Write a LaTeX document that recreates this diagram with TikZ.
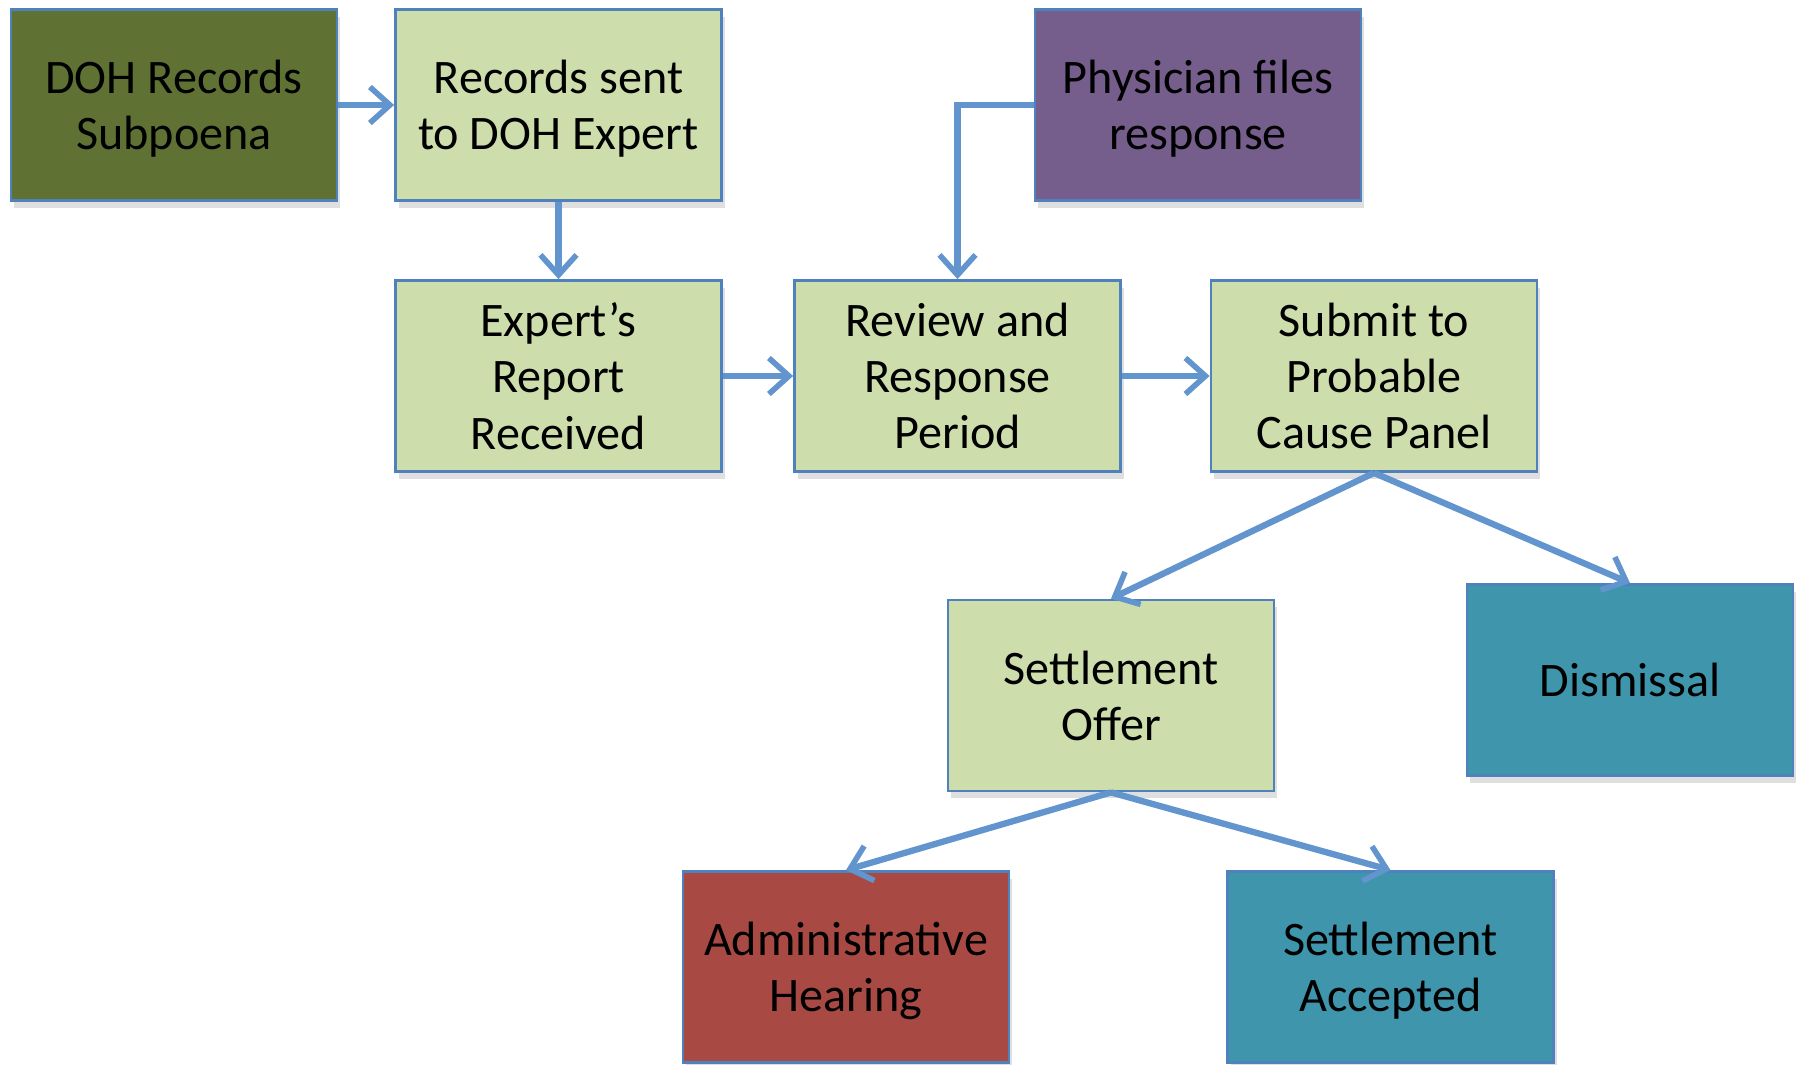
\documentclass[tikz,border=0pt]{standalone}
\usepackage{fontspec}
\setmainfont{Carlito}
\usetikzlibrary{arrows.meta,positioning,shadows}
\definecolor{flowline}{RGB}{79,129,189}
\definecolor{flowarrow}{RGB}{98,149,205}
\definecolor{flowlight}{RGB}{205,221,172}
\definecolor{flowdark}{RGB}{95,114,52}
\definecolor{flowpurple}{RGB}{117,93,140}
\definecolor{flowred}{RGB}{168,74,67}
\definecolor{flowteal}{RGB}{62,149,172}
\tikzset{
  fcard/.style={draw=flowline, line width=0.8pt, align=center,
    minimum width=32.6mm, minimum height=19.1mm, inner sep=0pt,
    font=\fontsize{13.7}{16}\selectfont, text depth=-1mm,
    drop shadow={shadow xshift=0.3mm, shadow yshift=-0.7mm, opacity=0.25}},
  flight/.style={fcard, fill=flowlight},
  fdark/.style={fcard, fill=flowdark},
  fpurple/.style={fcard, fill=flowpurple},
  fred/.style={fcard, fill=flowred},
  fteal/.style={fcard, fill=flowteal},
  arr/.style={-{Straight Barb[length=2mm,width=3.6mm,line width=1.6pt]},
    line width=1.8pt, flowarrow}
}
\begin{document}
\begin{tikzpicture}[x=0.1mm,y=-0.1mm]
  \clip (0,0) rectangle (1798,1064);
  % top row
  \node[fdark] (subpoena) at (174,105) {DOH Records\\Subpoena};
  \node[flight] (sent) at (558.5,105) {Records sent\\to DOH Expert};
  \node[fpurple] (physician) at (1198,105) {Physician files\\response};
  % middle row
  \node[flight] (report) at (558.5,376) {Expert’s\\Report\\Received};
  \node[flight] (review) at (957.5,376) {Review and\\Response\\Period};
  \node[flight] (panel) at (1374,376) {Submit to\\Probable\\Cause Panel};
  % outcomes
  \node[flight] (offer) at (1111,695.5) {Settlement\\Offer};
  \node[fteal] (dismissal) at (1630,680) {Dismissal};
  \node[fred] (hearing) at (846,967) {Administrative\\Hearing};
  \node[fteal] (accepted) at (1390.5,967) {Settlement\\Accepted};

  \draw[arr] (subpoena) -- (sent);
  \draw[arr] (sent) -- (report);
  \draw[arr] (physician.west) -| (review.north);
  \draw[arr] (report) -- (review);
  \draw[arr] (review) -- (panel);
  \draw[arr] (panel.south) -- (offer.north);
  \draw[arr] (panel.south) -- (dismissal.north);
  \draw[arr] (offer.south) -- (hearing.north);
  \draw[arr] (offer.south) -- (accepted.north);
\end{tikzpicture}
\end{document}
